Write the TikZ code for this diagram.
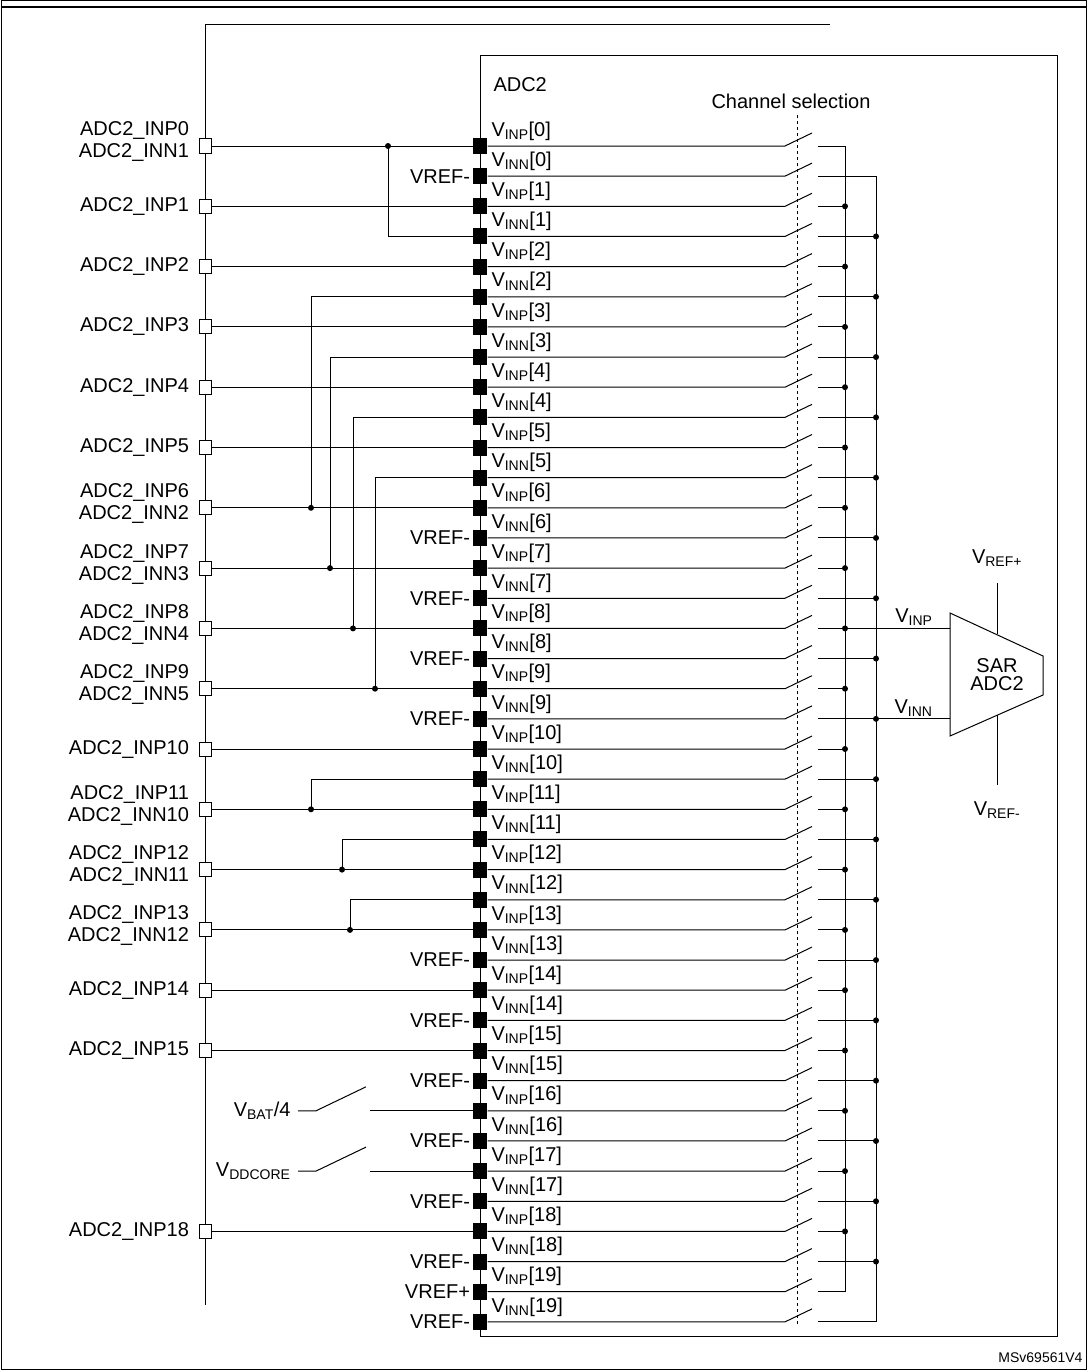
\documentclass[tikz,border=0pt]{standalone}
\usepackage{fontspec}
\setmainfont{Liberation Sans}
\usetikzlibrary{positioning}
\tikzset{
  pin/.style={rectangle, fill=black, minimum width=14pt, minimum height=16pt, inner sep=0pt},
  srcpin/.style={rectangle, draw, fill=white, minimum width=12pt, minimum height=14pt, inner sep=0pt},
  dot/.style={circle, fill=black, minimum size=6pt, inner sep=0pt},
  lbl/.style={inner sep=1pt, font=\fontsize{20}{22}\selectfont},
  wire/.style={line width=1pt}
}
\newcommand{\vs}[1]{V\textsubscript{#1}}
\begin{document}
\begin{tikzpicture}[x=1pt, y=-1pt, line width=1pt]
\useasboundingbox (0,0) rectangle (1087,1370);
% frame
\draw (1,1) rectangle (1086,1369);
\draw[line width=1.5pt] (1,7) -- (1086,7);
\node[lbl, font=\fontsize{14}{16}\selectfont, anchor=south east] (ref) at (1084,1364) {MSv69561V4};

% analog input bus and ADC block
\draw (205,1305) -- (205,25) -- (830,25);
\draw (480,1336) -- (480,56) -- (1057,56) -- (1057,1336) -- cycle;
\node[lbl, anchor=west] (adcname) at (492,85) {ADC2};
\node[lbl, anchor=west] (chsel) at (710,101) {Channel selection};
\draw[dashed, line width=0.7pt] (797,115) -- (797,1325);

% pins, pin labels and channel switches
\foreach \i in {0,...,39} {
  \pgfmathsetmacro{\yy}{146+30.15*\i}
  \pgfmathtruncatemacro{\k}{\i/2}
  \pgfmathtruncatemacro{\odd}{mod(\i,2)}
  \node[pin] (p\i) at (480,\yy) {};
  \coordinate (sw\i) at (785,\yy);
  \coordinate (so\i) at (818,\yy);
  \ifnum\odd=0
    \node[lbl, anchor=west] (pl\i) at (490,\yy-15) {\vs{INP}[\k]};
    \coordinate (b\i) at (845,\yy);
  \else
    \node[lbl, anchor=west] (pl\i) at (490,\yy-15) {\vs{INN}[\k]};
    \coordinate (b\i) at (876,\yy);
  \fi
  \draw (p\i.east) -- (sw\i) -- ++(27,-13);
  \draw (so\i) -- (b\i);
}
\foreach \i in {2,3,...,37} \node[dot] at (b\i) {};
\draw (b0) -- (b38);
\draw (b1) -- (b39);

% reference pins
\foreach \i in {1,13,15,17,19,27,29,31,33,35,37,39}
  \node[lbl, left=1pt of p\i] (vr\i) {VREF-};
\node[lbl, left=1pt of p38] (vr38) {VREF+};

% external inputs
\foreach \i/\txt in {2/ADC2\_INP1, 4/ADC2\_INP2, 6/ADC2\_INP3, 8/ADC2\_INP4,
    10/ADC2\_INP5, 20/ADC2\_INP10, 28/ADC2\_INP14, 30/ADC2\_INP15, 36/ADC2\_INP18} {
  \node[srcpin] (s\i) at (205,{146+30.15*\i}) {};
  \node[lbl, left=8pt of s\i] (sl\i) {\txt};
  \draw (s\i) -- (p\i);
}
\foreach \i/\ta/\tb in {0/ADC2\_INP0/ADC2\_INN1, 12/ADC2\_INP6/ADC2\_INN2,
    14/ADC2\_INP7/ADC2\_INN3, 16/ADC2\_INP8/ADC2\_INN4, 18/ADC2\_INP9/ADC2\_INN5,
    22/ADC2\_INP11/ADC2\_INN10, 24/ADC2\_INP12/ADC2\_INN11, 26/ADC2\_INP13/ADC2\_INN12} {
  \node[srcpin] (s\i) at (205,{146+30.15*\i}) {};
  \node[lbl, anchor=east, align=right] (sl\i) at ([xshift=-8pt,yshift=4pt]s\i.west)
    {\ta\\[0pt]\tb};
  \draw (s\i) -- (p\i);
}

% shared INN connections
\foreach \a/\b/\x in {0/3/388, 12/5/311, 14/7/330, 16/9/353, 18/11/375,
    22/21/311, 24/23/342, 26/25/350} {
  \coordinate (j\a) at (\x,{146+30.15*\a});
  \node[dot] at (j\a) {};
  \draw (j\a) |- (p\b);
}

% internal sources
\foreach \i/\txt in {32/{\vs{BAT}/4}, 34/{\vs{DDCORE}}} {
  \coordinate (is\i) at (298,{146+30.15*\i});
  \node[lbl, anchor=east] (il\i) at ([xshift=-6pt]is\i) {\txt};
  \draw (is\i) -- ++(18,0) -- ++(50,-24);
  \draw ([xshift=72pt]is\i) -- (p\i);
}

% SAR ADC
\coordinate (adcp) at (950,{146+30.15*16});
\coordinate (adcn) at (950,{146+30.15*19});
\draw (b16) -- (adcp) node[lbl, above left=1pt and 16pt] {\vs{INP}};
\draw (b19) -- (adcn) node[lbl, above left=1pt and 16pt] {\vs{INN}};
\draw (950,613) -- (1043,656) -- (1043,695) -- (950,736) -- cycle;
\node[lbl, align=center] (sar) at (997,675) {SAR\\[-4pt]ADC2};
\draw (997,583) -- (997,634);
\draw (997,715) -- (997,785);
\node[lbl] (vrp) at (997,558) {\vs{REF+}};
\node[lbl] (vrm) at (997,810) {\vs{REF-}};
\end{tikzpicture}
\end{document}
